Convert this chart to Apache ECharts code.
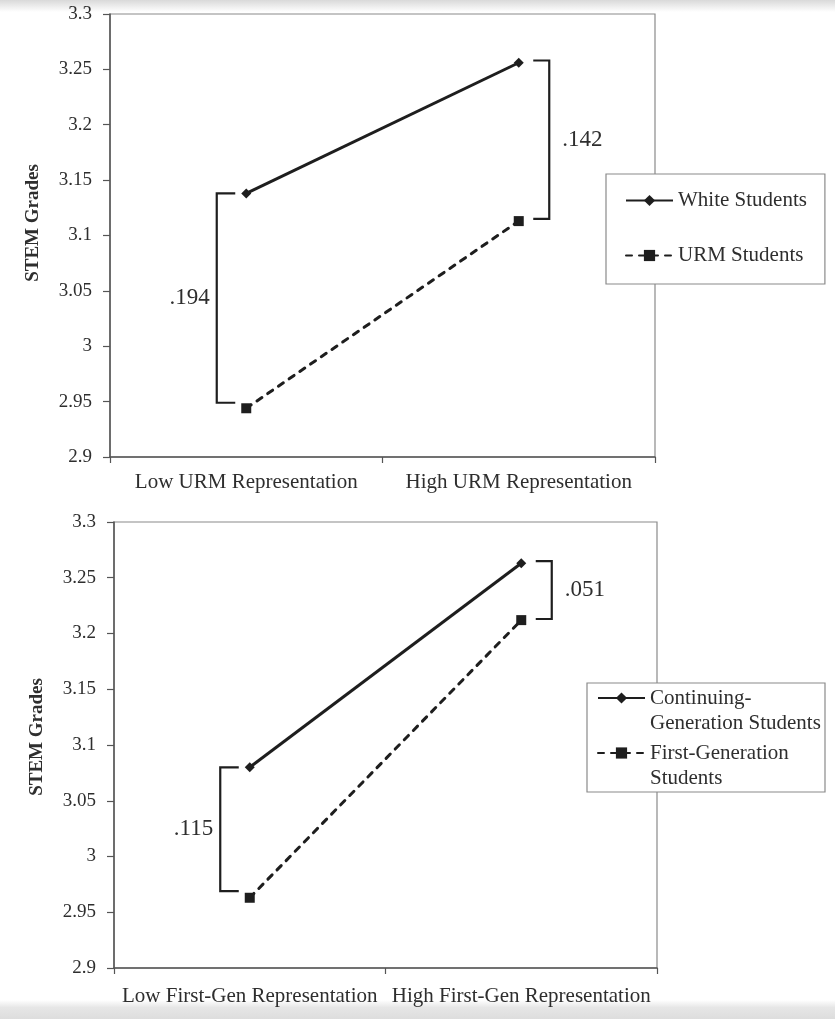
<!DOCTYPE html>
<html>
<head>
<meta charset="utf-8">
<script src="https://cdn.jsdelivr.net/npm/echarts@6/dist/echarts.min.js"></script>
<style>html,body{margin:0;padding:0;background:#fff;}#main{width:835px;height:1019px;}</style>
</head>
<body>
<div id="main"></div>
<script>
// ---- data ----
var topCategories = ['Low URM Representation', 'High URM Representation'];
var whiteStudents = [3.138, 3.256];
var urmStudents = [2.944, 3.113];
var topGapLo = [2.949, 3.115];
var topGapHi = [3.138, 3.258];
var topGapLabels = ['.194', '.142'];

var bottomCategories = ['Low First-Gen Representation', 'High First-Gen Representation'];
var continuingGen = [3.080, 3.263];
var firstGen = [2.963, 3.212];
var bottomGapLo = [2.969, 3.213];
var bottomGapHi = [3.080, 3.265];
var bottomGapLabels = ['.115', '.051'];

var yMin = 2.9, yMax = 3.3, yStep = 0.05;
var yTitle = 'STEM Grades';
var legendLabels = {
  'White Students': 'White Students',
  'URM Students': 'URM Students',
  'Continuing-Generation Students': 'Continuing-\nGeneration Students',
  'First-Generation Students': 'First-Generation\nStudents'
};

// ---- styling ----
var FONT = '"Liberation Serif", "Times New Roman", serif';
var TEXT = '#2e2e2e';
var INK = '#1e1e1e';
var AXIS = '#555';

function yAxisCfg(gi) {
  return {
    type: 'value', gridIndex: gi, min: yMin, max: yMax, interval: yStep,
    axisLine: {show: true, lineStyle: {color: AXIS, width: 1.5}},
    axisTick: {show: true, length: 7, lineStyle: {color: AXIS, width: 1.2}},
    axisLabel: {margin: 18, color: TEXT, fontFamily: FONT, fontSize: 19,
      formatter: function (v) { return String(+v.toFixed(2)); }},
    splitLine: {show: false}
  };
}
function xAxisCfg(gi, cats, margin) {
  return {
    type: 'category', gridIndex: gi, data: cats, boundaryGap: true,
    axisLine: {show: true, lineStyle: {color: AXIS, width: 1.5}},
    axisTick: {show: true, length: 6, interval: 0, lineStyle: {color: AXIS, width: 1.2}},
    axisLabel: {margin: margin, color: TEXT, fontFamily: FONT, fontSize: 21, interval: 0}
  };
}
function lineSeries(name, data, gi, dashed) {
  return {
    type: 'line', name: name, data: data, xAxisIndex: gi, yAxisIndex: gi,
    symbol: dashed ? 'rect' : 'diamond', symbolSize: 10,
    showSymbol: true, silent: true, animation: false,
    itemStyle: {color: INK},
    lineStyle: {color: INK, width: 3, type: dashed ? [6, 7] : 'solid', cap: dashed ? 'round' : 'butt'}
  };
}
function bracketSeries(gi, lo, hi, labels) {
  var data = lo.map(function (v, i) { return [i, v, hi[i]]; });
  return {
    type: 'custom', xAxisIndex: gi, yAxisIndex: gi, silent: true, animation: false,
    encode: {x: 0, y: [1, 2]}, data: data, clip: false,
    renderItem: function (params, api) {
      var cat = api.value(0);
      var pLo = api.coord([cat, api.value(1)]);
      var pHi = api.coord([cat, api.value(2)]);
      var left = cat === 0;
      var vx = pLo[0] + (left ? -29.5 : 30.5);
      var ax = pLo[0] + (left ? -11 : 14.5);
      return {type: 'group', children: [
        {type: 'polyline', shape: {points: [[ax, pHi[1]], [vx, pHi[1]], [vx, pLo[1]], [ax, pLo[1]]]},
         style: {stroke: INK, lineWidth: 2.2, fill: null}},
        {type: 'text', style: {text: labels[params.dataIndex], x: left ? vx - 7 : vx + 13,
          y: (pLo[1] + pHi[1]) / 2, textAlign: left ? 'right' : 'left', textVerticalAlign: 'middle',
          font: '23px ' + FONT, fill: TEXT}}
      ]};
    }
  };
}

var chart = echarts.init(document.getElementById('main'), null, {renderer: 'canvas'});
chart.setOption({
  animation: false,
  backgroundColor: '#ffffff',
  grid: [
    {left: 110, top: 14, width: 545, height: 443, show: true, borderColor: '#8a8a8a', borderWidth: 1.2, backgroundColor: 'transparent'},
    {left: 114, top: 522, width: 543, height: 446, show: true, borderColor: '#8a8a8a', borderWidth: 1.2, backgroundColor: 'transparent'}
  ],
  xAxis: [xAxisCfg(0, topCategories, 15), xAxisCfg(1, bottomCategories, 18)],
  yAxis: [yAxisCfg(0), yAxisCfg(1)],
  legend: [
    {
      data: ['White Students', 'URM Students'], orient: 'vertical',
      left: 606, top: 174, padding: [16, 18, 18, 19], itemGap: 34,
      itemWidth: 47, itemHeight: 14, selectedMode: false,
      backgroundColor: '#fff', borderColor: '#8a8a8a', borderWidth: 1.2,
      formatter: function (n) { return legendLabels[n]; },
      textStyle: {fontFamily: FONT, fontSize: 21, lineHeight: 21, color: TEXT}
    },
    {
      data: ['Continuing-Generation Students', 'First-Generation Students'], orient: 'vertical',
      left: 597, top: 660.5, padding: 0, itemGap: -20, z: 6,
      itemWidth: 47, itemHeight: 14, selectedMode: false,
      formatter: function (n) { return '\n' + legendLabels[n]; },
      textStyle: {fontFamily: FONT, fontSize: 21, lineHeight: 25, color: TEXT}
    }
  ],
  graphic: [
    {type: 'rect', z: -10, shape: {x: 0, y: 0, width: 835, height: 12},
     style: {fill: new echarts.graphic.LinearGradient(0, 0, 0, 1, [{offset: 0, color: '#d9d9d9'}, {offset: 1, color: '#ffffff'}])}},
    {type: 'rect', z: -10, shape: {x: 0, y: 1000, width: 835, height: 19},
     style: {fill: new echarts.graphic.LinearGradient(0, 0, 0, 1, [{offset: 0, color: '#ffffff'}, {offset: 0.4, color: '#e6e6e6'}, {offset: 1, color: '#dddddd'}])}},
    {type: 'rect', z: 3, shape: {x: 587, y: 683, width: 238, height: 109},
     style: {fill: '#fff', stroke: '#8a8a8a', lineWidth: 1.2}},
    {type: 'text', x: 33, y: 223, rotation: Math.PI / 2,
     style: {text: yTitle, font: 'bold 19px ' + FONT, fill: TEXT, textAlign: 'center', textVerticalAlign: 'middle'}},
    {type: 'text', x: 37, y: 737, rotation: Math.PI / 2,
     style: {text: yTitle, font: 'bold 19px ' + FONT, fill: TEXT, textAlign: 'center', textVerticalAlign: 'middle'}}
  ],
  series: [
    lineSeries('White Students', whiteStudents, 0, false),
    lineSeries('URM Students', urmStudents, 0, true),
    bracketSeries(0, topGapLo, topGapHi, topGapLabels),
    lineSeries('Continuing-Generation Students', continuingGen, 1, false),
    lineSeries('First-Generation Students', firstGen, 1, true),
    bracketSeries(1, bottomGapLo, bottomGapHi, bottomGapLabels)
  ]
});
</script>
</body>
</html>
